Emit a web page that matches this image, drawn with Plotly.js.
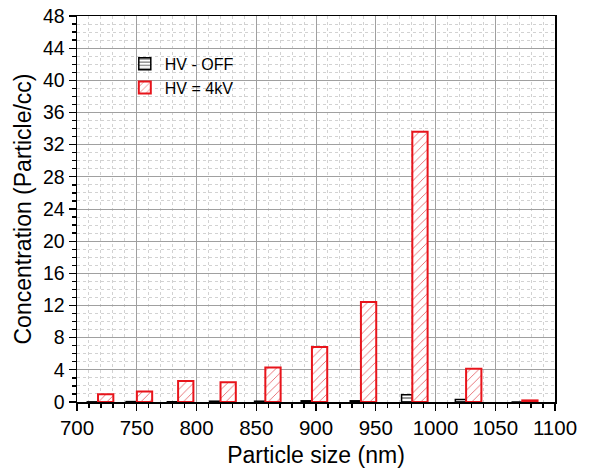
<!DOCTYPE html>
<html>
<head>
<meta charset="utf-8">
<script src="https://cdn.plot.ly/plotly-3.0.1.min.js"></script>
<style>html,body{margin:0;padding:0;background:#fff;}#chart{width:593px;height:476px;}</style>
</head>
<body>
<div id="chart"></div>
<script>
var sizes = [724, 756.5, 791, 826.5, 864, 903, 944, 987, 1032, 1079];
// Concentrations (Particle/cc)
var hvOff = [0.02, 0.05, 0.03, 0.1, 0.1, 0.15, 0.15, 0.9, 0.3, 0.0];
var hv4kV = [0.95, 1.3, 2.6, 2.45, 4.3, 6.85, 12.45, 33.6, 4.15, 0.2];
var seriesNames = ["HV - OFF", "HV = 4kV"];
var xTicks = [700, 750, 800, 850, 900, 950, 1000, 1050, 1100];
var yTicks = [0, 4, 8, 12, 16, 20, 24, 28, 32, 36, 40, 44, 48];

var font = "Arial, 'Liberation Sans', sans-serif";

var traces = [
  {
    type: "bar", name: seriesNames[0], x: sizes, y: hvOff,
    offset: -15.4, width: 9,
    marker: {color: "#ffffff", line: {color: "#000000", width: 1.5},
      pattern: {shape: "-", fgcolor: "#000000", bgcolor: "#ffffff", size: 4, solidity: 0.2}}
  },
  {
    type: "bar", name: seriesNames[1], x: sizes, y: hv4kV,
    offset: -6.4, width: 12.8,
    marker: {color: "#ffffff", line: {color: "#e8141b", width: 2},
      pattern: {shape: "/", fgcolor: "#e0454b", bgcolor: "#ffffff", size: 6, solidity: 0.12}}
  }
];

var layout = {
  width: 593, height: 476,
  margin: {l: 77, r: 38, t: 16, b: 74},
  paper_bgcolor: "#ffffff", plot_bgcolor: "#ffffff",
  barmode: "overlay",
  font: {family: font, color: "#000000", size: 19},
  showlegend: true,
  legend: {x: 0.1, y: 0.92, xanchor: "left", yanchor: "top",
    bgcolor: "rgba(0,0,0,0)", font: {size: 16, family: font}, tracegroupgap: 0},
  xaxis: {
    range: [700, 1100], tickvals: xTicks, ticktext: xTicks.map(String),
    ticks: "outside", ticklen: 7, tickwidth: 1.3, tickcolor: "#000",
    showline: true, linecolor: "#000", linewidth: 1.5, mirror: true,
    showgrid: true, gridcolor: "#a0a0a0", gridwidth: 1,
    zeroline: false,
    minor: {dtick: 10, ticks: "outside", ticklen: 4, tickcolor: "#000",
      showgrid: true, gridcolor: "#d2d2d2", griddash: "dot", gridwidth: 1},
    tickfont: {size: 20.5},
    title: {text: "Particle size (nm)", font: {size: 23}, standoff: 9}
  },
  yaxis: {
    range: [0, 48], tickvals: yTicks, ticktext: yTicks.map(String),
    ticks: "outside", ticklen: 7, tickwidth: 1.3, tickcolor: "#000",
    showline: true, linecolor: "#000", linewidth: 1.5, mirror: true,
    showgrid: true, gridcolor: "#a0a0a0", gridwidth: 1,
    zeroline: false,
    minor: {dtick: 1, ticks: "outside", ticklen: 4, tickcolor: "#000",
      showgrid: true, gridcolor: "#d2d2d2", griddash: "dot", gridwidth: 1},
    tickfont: {size: 19.5},
    title: {text: "Concentration (Particle/cc)", font: {size: 23}, standoff: 5}
  }
};

Plotly.newPlot("chart", traces, layout, {displayModeBar: false, staticPlot: true});
</script>
</body>
</html>
